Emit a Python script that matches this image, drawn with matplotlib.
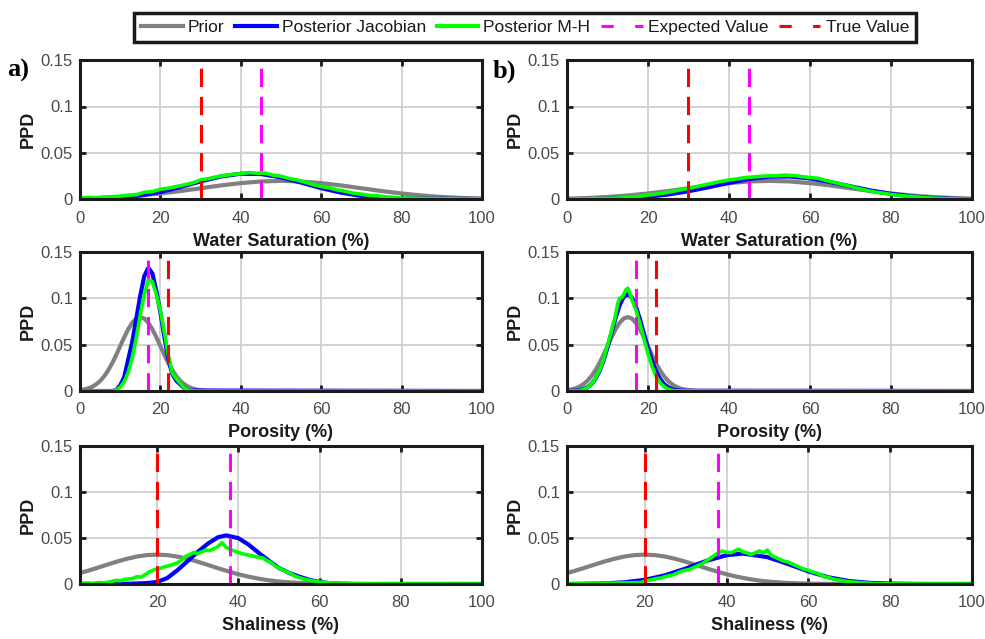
import numpy as np
import matplotlib
matplotlib.use('Agg')
import matplotlib.pyplot as plt
from matplotlib.lines import Line2D
from matplotlib import font_manager

plt.rcParams['font.family'] = ['Liberation Sans', 'DejaVu Sans']

# ---------------------------------------------------------------
# Data (PPD curves, x in %)
# ---------------------------------------------------------------
# Water saturation
sw_prior_x = [0, 5, 10, 15, 20, 25, 30, 35, 40, 45, 50, 55, 60, 65, 70, 75, 80, 85, 90, 95, 100]
sw_prior = [.0009, .0016, .0027, .0043, .0065, .0091, .0121, .0151, .0176, .0194, .0200,
            .0194, .0176, .0151, .0121, .0091, .0065, .0043, .0027, .0016, .0009]
sw_jac_a = [.0003, .0009, .0021, .0044, .0081, .0134, .0194, .0247, .0277, .0274, .0238,
            .0182, .0122, .0073, .0038, .0017, .0010, .0008, .0008, .0006, .0006]
sw_jac_b = [.0001, .0003, .0007, .0015, .0030, .0054, .0089, .0132, .0179, .0220, .0245,
            .0247, .0226, .0188, .0142, .0097, .0060, .0034, .0017, .0008, .0003]
sw_mh_x = [0, 2, 4, 6, 8, 10, 12, 14, 16, 18, 20, 22, 24, 26, 28, 30, 32, 34, 36, 38,
           40, 42, 44, 46, 48, 50, 52, 54, 56, 58, 60, 62, 64, 66, 68, 70, 72, 74, 76, 78,
           80, 82, 84, 86, 88, 90, 92, 94, 96, 98, 100]
sw_mh_a = [.0018, .0022, .0019, .0026, .0030, .0036, .0047, .0052, .0078, .0085,
           .0110, .0122, .0140, .0158, .0178, .0210, .0225, .0244, .0258, .0270,
           .0278, .0290, .0282, .0284, .0262, .0250, .0226, .0210, .0186, .0160,
           .0140, .0126, .0104, .0088, .0068, .0058, .0044, .0040, .0028, .0024,
           .0016, .0014, .0012, .0009, .0010, .0008, .0010, .0007, .0006, .0008, .0007]
sw_mh_b = [.0005, .0008, .0006, .0010, .0009, .0012, .0014, .0018, .0025, .0034,
           .0048, .0058, .0070, .0086, .0104, .0120, .0138, .0158, .0176, .0194,
           .0210, .0222, .0236, .0242, .0250, .0254, .0256, .0262, .0258, .0246,
           .0236, .0228, .0204, .0184, .0162, .0142, .0118, .0098, .0080, .0068,
           .0054, .0044, .0036, .0030, .0022, .0016, .0012, .0009, .0007, .0006, .0005]

# Porosity
phi_prior_x = [0, 1, 2, 3, 4, 5, 6, 7, 8, 9, 10, 11, 12, 13, 14, 15, 16, 17, 18, 19,
               20, 21, 22, 23, 24, 25, 26, 27, 28, 29, 30, 31, 32, 33, 35, 100]
phi_prior = [.0009, .0016, .0027, .0045, .0071, .0108, .0158, .0222, .0299, .0388,
             .0484, .0580, .0666, .0737, .0782, .0798, .0782, .0737, .0666, .0580,
             .0484, .0388, .0299, .0222, .0158, .0108, .0071, .0045, .0027, .0016,
             .0009, .0005, .0002, .0001, 0, 0]
phi_jac_a_x = [0, 8, 9, 10, 11, 12, 13, 14, 15, 16, 17, 18, 19, 20, 21, 22, 23, 24, 25, 26, 27, 100]
phi_jac_a = [0, 0, .001, .006, .015, .034, .053, .078, .103, .124, .133,
             .127, .108, .085, .058, .034, .018, .011, .007, .003, .0005, 0]
phi_mh_a_x = [0, 8, 9, 10, 11, 12, 13, 14, 15, 16, 17, 18, 19, 20, 21, 22, 23, 24, 25,
              26, 27, 28, 29, 100]
phi_mh_a = [0, 0, .001, .004, .010, .020, .036, .057, .082, .104, .120, .118,
            .104, .087, .063, .038, .019, .013, .008, .003, .001, .0003, 0, 0]
phi_jac_b_x = [0, 3, 4, 5, 6, 7, 8, 9, 10, 11, 12, 13, 14, 15, 16, 17, 18, 19, 20, 21,
               22, 23, 24, 25, 26, 27, 28, 100]
phi_jac_b = [0, .0008, .0018, .0038, .0072, .0128, .0212, .0325, .0468, .0628,
             .0788, .0925, .1015, .1045, .1010, .0915, .0778, .0620, .0465, .0325,
             .0212, .0130, .0075, .0040, .0020, .0009, .0003, 0]
phi_mh_b_x = [0, 3, 4, 5, 6, 7, 8, 9, 10, 11, 12, 12.5, 13, 13.5, 14, 14.5, 15, 15.5,
              16, 17, 18, 19, 20, 21, 22, 23, 24, 25, 26, 27, 100]
phi_mh_b = [0, .0005, .0015, .0036, .0072, .0132, .0220, .0340, .0490, .0650,
            .0820, .0940, .1000, .1010, .1040, .1090, .1110, .1060, .0990, .0880,
            .0730, .0565, .0405, .0265, .0160, .0090, .0045, .0020, .0008, .0002, 0]

# Shaliness
sh_prior_x = [1, 2.5, 5, 7.5, 10, 12.5, 15, 17.5, 20, 22.5, 25, 27.5, 30, 32.5, 35,
              37.5, 40, 42.5, 45, 47.5, 50, 52.5, 55, 57.5, 60, 65, 70, 100]
sh_prior = [.0119, .0138, .0172, .0208, .0243, .0274, .0299, .0315, .0320, .0315,
            .0299, .0274, .0243, .0208, .0172, .0138, .0106, .0080, .0058, .0040,
            .0027, .0018, .0011, .0007, .0004, .0001, 0, 0]
sh_jac_a_x = [1, 10, 15, 17.5, 20, 22.5, 25, 27.5, 30, 32.5, 35, 37, 40, 42.5, 45,
              47.5, 50, 52.5, 55, 57.5, 60, 62.5, 65, 67.5, 100]
sh_jac_a = [0, 0, .0005, .0010, .0022, .0065, .0150, .0250, .0350, .0440,
            .0510, .0530, .0500, .0430, .0340, .0255, .0175, .0120, .0080, .0045,
            .0022, .0009, .0003, 0, 0]
sh_mh_a_x = list(range(1, 71)) + [100]
sh_mh_a = [.0005, .0008, .0010, .0006, .0012, .0015, .0012, .0020, .0030, .0040,
           .0035, .0050, .0055, .0060, .0080, .0075, .0100, .0130, .0150, .0165,
           .0175, .0190, .0200, .0215, .0230, .0260, .0300, .0320, .0345, .0330,
           .0350, .0370, .0365, .0385, .0410, .0450, .0400, .0375, .0360, .0345,
           .0330, .0320, .0310, .0300, .0290, .0285, .0255, .0235, .0200, .0175,
           .0150, .0130, .0110, .0085, .0070, .0055, .0045, .0035, .0030, .0022,
           .0018, .0015, .0012, .0010, .0010, .0006, .0008, .0004, .0003, .0002,
           0]
sh_jac_b_x = [1, 5, 10, 15, 20, 25, 30, 35, 40, 44, 50, 55, 60, 65, 70, 75, 80, 85, 90, 100]
sh_jac_b = [0, .0002, .0006, .0018, .0045, .0095, .0168, .0251, .0314, .0332,
            .0293, .0218, .0137, .0072, .0032, .0012, .0004, .0001, 0, 0]
sh_mh_b_x = [1, 19] + list(range(20, 79)) + [100]
sh_mh_b = [.0002, .0015,
           .0030, .0040, .0050, .0060, .0065, .0080, .0090, .0100, .0120, .0140,
           .0150, .0160, .0180, .0200, .0220, .0250, .0280, .0310, .0340, .0360,
           .0345, .0340, .0360, .0380, .0350, .0340, .0320, .0340, .0360, .0340,
           .0370, .0310, .0290, .0270, .0250, .0240, .0220, .0200, .0180, .0160,
           .0150, .0130, .0120, .0100, .0080, .0070, .0055, .0045, .0040, .0030,
           .0025, .0020, .0018, .0012, .0010, .0008, .0005, .0003, .0002,
           0]

# vertical reference lines per row (Water sat., Porosity, Shaliness)
true_vals = [30, 22, 20]
expected_vals = [45, 17, 38]
xlabels = ['Water Saturation (%)', 'Porosity (%)', 'Shaliness (%)']

C_PRIOR, C_JAC, C_MH = '#808080', '#0000ff', '#00ff00'
C_EXP, C_TRUE = '#ff00ff', '#ff0000'
DASH = (6, 3.2)


def draw_panel(ax, prior, jac, mh, row):
    ax.plot(*prior, color=C_PRIOR, lw=3.0, solid_capstyle='round')
    ax.plot(*jac, color=C_JAC, lw=3.0, solid_capstyle='round')
    ax.plot(*mh, color=C_MH, lw=2.6, solid_capstyle='round')
    ax.axvline(expected_vals[row], color=C_EXP, lw=2.2, dashes=DASH)
    ax.axvline(true_vals[row], color=C_TRUE, lw=2.2, dashes=DASH)

    if row == 2:
        ax.set_xlim(1, 100)
        ax.set_xticks([20, 40, 60, 80, 100])
    else:
        ax.set_xlim(0, 100)
        ax.set_xticks([0, 20, 40, 60, 80, 100])
    ax.set_ylim(0, 0.15)
    ax.set_yticks([0, 0.05, 0.1, 0.15])
    ax.set_yticklabels(['0', '0.05', '0.1', '0.15'])
    ax.grid(True, color='#cfcfcf', lw=1.3)
    ax.set_axisbelow(True)
    for s in ax.spines.values():
        s.set_linewidth(2.2)
        s.set_color('#1a1a1a')
        s.set_zorder(5)
    ax.tick_params(direction='in', top=True, right=True, length=4, width=2,
                   color='#1a1a1a', labelsize=12, labelcolor='#4a4a4a')
    ax.tick_params(axis='x', pad=8)
    ax.tick_params(axis='y', pad=5)
    ax.set_ylabel('PPD', fontsize=13, fontweight='bold', color='#1a1a1a', labelpad=3)
    ax.set_xlabel(xlabels[row], fontsize=13, fontweight='bold', color='#1a1a1a', labelpad=5)


fig = plt.figure(figsize=(9.85, 6.39), dpi=100)

rows_y = [(0.6878, 0.2183), (0.3881, 0.2175), (0.0861, 0.2152)]
cols_x = [(0.0812, 0.4081), (0.5756, 0.4112)]

panel_data = [
    [((sw_prior_x, sw_prior), (sw_prior_x, sw_jac_a), (sw_mh_x, sw_mh_a)),
     ((sw_prior_x, sw_prior), (sw_prior_x, sw_jac_b), (sw_mh_x, sw_mh_b))],
    [((phi_prior_x, phi_prior), (phi_jac_a_x, phi_jac_a), (phi_mh_a_x, phi_mh_a)),
     ((phi_prior_x, phi_prior), (phi_jac_b_x, phi_jac_b), (phi_mh_b_x, phi_mh_b))],
    [((sh_prior_x, sh_prior), (sh_jac_a_x, sh_jac_a), (sh_mh_a_x, sh_mh_a)),
     ((sh_prior_x, sh_prior), (sh_jac_b_x, sh_jac_b), (sh_mh_b_x, sh_mh_b))],
]

for r in range(3):
    for c in range(2):
        ax = fig.add_axes([cols_x[c][0], rows_y[r][0], cols_x[c][1], rows_y[r][1]])
        draw_panel(ax, *panel_data[r][c], r)

# panel letters
fig.text(0.007, 0.889, 'a)', family=['Liberation Serif', 'DejaVu Serif'],
         fontsize=19, fontweight='bold', va='center', ha='left')
fig.text(0.5005, 0.889, 'b)', family=['Liberation Serif', 'DejaVu Serif'],
         fontsize=19, fontweight='bold', va='center', ha='left')

# legend
names = {f.name for f in font_manager.fontManager.ttflist}
leg_family = 'Liberation Sans Narrow' if 'Liberation Sans Narrow' in names else 'Liberation Sans'
handles = [
    Line2D([], [], color=C_PRIOR, lw=3.0),
    Line2D([], [], color=C_JAC, lw=3.0),
    Line2D([], [], color=C_MH, lw=3.0),
    Line2D([], [], color=C_EXP, lw=2.2, dashes=(4, 7)),
    Line2D([], [], color=C_TRUE, lw=2.2, dashes=(4, 7)),
]
labels = ['Prior', 'Posterior Jacobian', 'Posterior M-H', 'Expected Value', 'True Value']
leg = fig.legend(handles, labels, loc='center', bbox_to_anchor=(0.533, 0.957), ncol=5,
                 frameon=True, fancybox=False, edgecolor='#1a1a1a', framealpha=1,
                 prop={'family': leg_family, 'size': 12.5}, handlelength=2.4,
                 handletextpad=0.3, columnspacing=0.6, borderpad=0.4, borderaxespad=0)
leg.get_frame().set_linewidth(2.5)
for t in leg.get_texts():
    t.set_color('#1a1a1a')

fig.savefig('out.png', dpi=100)
